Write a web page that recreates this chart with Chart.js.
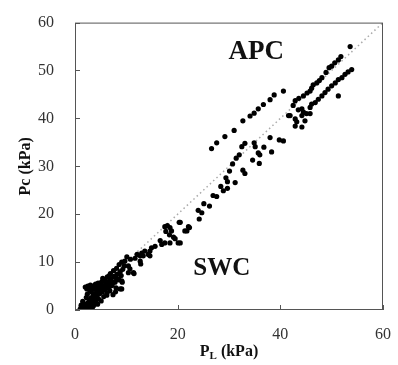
<!DOCTYPE html>
<html>
<head>
<meta charset="utf-8">
<script src="https://cdn.jsdelivr.net/npm/chart.js@4/dist/chart.umd.min.js"></script>
<style>
  html, body { margin: 0; padding: 0; background: #fff; }
  #wrap { width: 398px; height: 365px; position: relative; }
</style>
</head>
<body>
<div id="wrap"><canvas id="chart"></canvas></div>
<script>
// P_L (x) and Pc (y)
const pl = [
  53.6, 51.8, 51.3, 50.6, 50.0, 49.5, 48.9, 48.1, 47.6, 47.1, 46.4, 46.1, 45.8, 45.2, 44.5, 43.6, 42.9, 42.5,
  53.9, 53.2, 52.6, 52.0, 51.3, 50.7, 50.0, 49.3, 48.7, 48.1, 47.4, 51.3, 46.8, 46.1, 45.8, 44.5, 44.2, 45.1,
  45.8, 44.2, 42.9, 43.2, 44.8, 41.9, 42.9, 44.2, 43.5,
  40.6, 38.8, 38.0, 36.7, 35.7, 34.9, 34.1, 32.7, 31.0, 29.2, 27.6, 26.6, 41.6,
  38.0, 39.8, 40.6, 36.8, 38.3, 35.7, 36.0, 35.1, 34.6, 35.9, 33.1, 32.5, 32.0, 31.4, 30.7, 30.1, 32.7, 33.1,
  29.4, 29.7, 31.2, 28.4, 28.9, 29.7, 34.9, 26.9, 27.6, 25.1, 26.2, 24.0, 24.7, 24.2, 22.3, 21.4, 20.5, 20.3,
  20.5, 21.8, 22.1, 17.5, 18.0, 18.5, 18.8, 17.7, 18.4, 19.2, 20.1, 19.5, 18.5, 17.5, 16.6, 16.9, 15.6, 14.9,
  14.6, 14.3, 13.6, 13.0, 12.7, 12.1, 13.3, 14.6, 12.8, 11.7, 10.8, 10.1, 9.7, 10.4,
  1.0, 1.3, 1.5, 1.8, 2.0, 2.1, 2.3, 2.5, 2.6, 2.8, 3.0, 3.1, 3.3, 3.5, 3.6, 3.8, 4.0, 4.1, 4.3, 4.5, 4.6,
  4.8, 5.0, 5.1, 5.3, 5.5, 5.6, 5.8, 6.0, 6.2, 6.4, 6.6, 6.8, 7.0, 7.2, 7.4, 7.6, 7.8, 8.0, 8.2, 8.5, 8.8,
  9.0, 9.3, 9.6, 2.0, 2.5, 3.0, 3.5, 4.0, 4.5, 1.5, 2.2, 3.2, 3.7, 4.2, 5.2, 5.8, 6.3, 6.9, 7.5, 8.1, 8.6,
  9.1, 2.4, 2.9, 1.2, 3.4, 2.7, 4.4, 5.4, 6.7, 7.9, 9.2, 8.8, 7.9, 7.2, 8.5, 6.2, 11.4, 10.4, 9.1, 9.1, 7.5,
  4.9, 5.7, 6.5, 2.3, 2.8, 3.3, 3.9, 4.6, 5.3, 6.1, 6.6, 10.7, 11.5, 12.7
];
const pc = [
  55.0, 52.9, 52.2, 51.6, 50.9, 50.6, 49.6, 48.5, 47.9, 47.4, 47.0, 46.3, 45.7, 45.3, 44.7, 44.2, 43.7, 42.7,
  50.2, 49.7, 49.2, 48.5, 48.1, 47.4, 46.8, 46.1, 45.4, 44.7, 44.0, 44.7, 43.3, 43.0, 42.3, 41.3, 40.6, 41.0,
  41.0, 42.0, 39.9, 39.3, 39.5, 40.6, 38.4, 38.2, 41.8,
  45.7, 44.9, 43.9, 42.9, 42.0, 41.1, 40.5, 39.5, 37.5, 36.2, 34.9, 33.7, 40.6,
  36.0, 35.5, 35.3, 34.0, 33.0, 32.8, 32.4, 34.1, 31.3, 30.6, 34.8, 34.1, 32.4, 31.7, 30.5, 29.0, 29.2, 28.5,
  27.6, 26.8, 26.6, 25.8, 24.9, 25.4, 34.9, 23.9, 23.7, 22.2, 21.7, 20.8, 20.3, 19.0, 17.2, 16.5, 18.3, 18.3,
  14.0, 16.5, 17.4, 17.4, 17.6, 17.2, 16.5, 16.4, 15.7, 15.2, 14.0, 14.9, 14.0, 14.0, 14.5, 13.7, 13.3, 13.0,
  12.3, 11.6, 12.3, 11.9, 11.3, 11.6, 11.3, 11.3, 9.6, 10.8, 10.6, 11.1, 10.2, 9.2,
  0.2, 0.5, 0.3, 0.9, 0.4, 1.2, 0.8, 1.5, 0.6, 2.0, 1.1, 2.5, 1.7, 3.0, 0.9, 2.2, 3.5, 1.6, 2.9, 4.0, 2.3,
  3.4, 4.5, 1.9, 3.8, 5.0, 2.8, 4.3, 5.5, 3.5, 4.8, 6.0, 4.0, 6.5, 5.3, 3.2, 7.0, 5.8, 4.6, 7.5, 6.3, 8.0,
  7.2, 8.5, 9.2, 4.8, 5.0, 5.2, 5.0, 5.4, 5.6, 1.8, 2.6, 3.8, 4.4, 4.7, 5.9, 6.4, 6.9, 7.6, 8.2, 8.7, 9.5,
  10.0, 3.3, 4.0, 1.0, 0.5, 0.2, 1.2, 6.6, 7.2, 6.8, 5.8, 4.4, 3.8, 5.1, 6.5, 3.1, 7.8, 7.8, 4.4, 6.1, 5.8,
  5.1, 6.0, 5.3, 4.4, 4.6, 4.5, 4.7, 4.4, 4.6, 4.8, 4.5, 8.6, 7.6, 10.2
];
const lineX = [0, 60];
const lineY = [0, 60];
const xTicks = [0, 20, 40, 60];
const yTicks = [0, 10, 20, 30, 40, 50, 60];
const zoneLabels = ['APC', 'SWC'];
const zoneX = [35.3, 28.6];
const zoneY = [53.8, 8.6];

const serif = '"Liberation Serif", "Times New Roman", serif';

const framePlugin = {
  id: 'frame',
  afterDraw(chart) {
    const ctx = chart.ctx;
    const a = chart.chartArea;
    const xs = chart.scales.x, ys = chart.scales.y;
    ctx.save();
    ctx.strokeStyle = '#555';
    ctx.lineWidth = 1;
    ctx.strokeRect(a.left + 0.5, a.top + 0.5, a.right - a.left - 1, a.bottom - a.top - 1);
    // inward ticks
    ctx.beginPath();
    xTicks.forEach(v => {
      const px = Math.round(xs.getPixelForValue(v)) + 0.5;
      ctx.moveTo(px, a.bottom);
      ctx.lineTo(px, a.bottom - 5);
    });
    yTicks.forEach(v => {
      const py = Math.round(ys.getPixelForValue(v)) + 0.5;
      ctx.moveTo(a.left, py);
      ctx.lineTo(a.left + 5, py);
    });
    ctx.stroke();

    // zone labels
    ctx.fillStyle = '#111';
    ctx.textAlign = 'center';
    ctx.textBaseline = 'middle';
    zoneLabels.forEach((t, i) => {
      ctx.font = 'bold ' + (i === 0 ? 27 : 25) + 'px ' + serif;
      ctx.fillText(t, xs.getPixelForValue(zoneX[i]), ys.getPixelForValue(zoneY[i]));
    });

    // x title with subscript
    ctx.font = 'bold 16px ' + serif;
    ctx.textAlign = 'left';
    ctx.textBaseline = 'alphabetic';
    const subFont = 'bold 11px ' + serif;
    const wP = ctx.measureText('P').width;
    const wRest = ctx.measureText(' (kPa)').width;
    ctx.font = subFont;
    const wL = ctx.measureText('L').width;
    let x0 = (a.left + a.right) / 2 - (wP + wL + wRest) / 2;
    const base = 356;
    ctx.font = 'bold 16px ' + serif;
    ctx.fillText('P', x0, base);
    ctx.font = subFont;
    ctx.fillText('L', x0 + wP, base + 3);
    ctx.font = 'bold 16px ' + serif;
    ctx.fillText(' (kPa)', x0 + wP + wL, base);

    // y title
    ctx.translate(26, (a.top + a.bottom) / 2);
    ctx.rotate(-Math.PI / 2);
    ctx.textAlign = 'center';
    ctx.textBaseline = 'middle';
    ctx.fillText('Pc (kPa)', 0, 0);
    ctx.restore();
  }
};

new Chart(document.getElementById('chart'), {
  type: 'scatter',
  data: {
    datasets: [
      {
        data: pl.map((v, i) => ({ x: v, y: pc[i] })),
        backgroundColor: '#000',
        borderColor: '#000',
        pointRadius: 2.6,
        pointHoverRadius: 2.6,
        borderWidth: 0,
        order: 1
      },
      {
        type: 'line',
        data: lineX.map((v, i) => ({ x: v, y: lineY[i] })),
        borderColor: '#aaa',
        borderWidth: 1.5,
        borderDash: [1.5, 3],
        pointRadius: 0,
        fill: false,
        order: 2
      }
    ]
  },
  options: {
    responsive: true,
    maintainAspectRatio: false,
    animation: false,
    layout: {
      padding: { top: 17, right: 15, left: 0, bottom: 0 }
    },
    plugins: {
      legend: { display: false },
      tooltip: { enabled: false }
    },
    scales: {
      x: {
        type: 'linear',
        min: 0,
        max: 60,
        afterFit: s => { s.height = 55; },
        afterBuildTicks: s => { s.ticks = xTicks.map(v => ({ value: v })); },
        grid: { display: false },
        border: { display: false },
        ticks: {
          color: '#333',
          padding: 7,
          font: { family: serif, size: 16 }
        }
      },
      y: {
        type: 'linear',
        min: 0,
        max: 60,
        afterFit: s => { s.width = 75; },
        afterBuildTicks: s => { s.ticks = yTicks.map(v => ({ value: v })); },
        grid: { display: false },
        border: { display: false },
        ticks: {
          color: '#333',
          padding: 13,
          font: { family: serif, size: 16 }
        }
      }
    }
  },
  plugins: [framePlugin]
});
</script>
</body>
</html>
